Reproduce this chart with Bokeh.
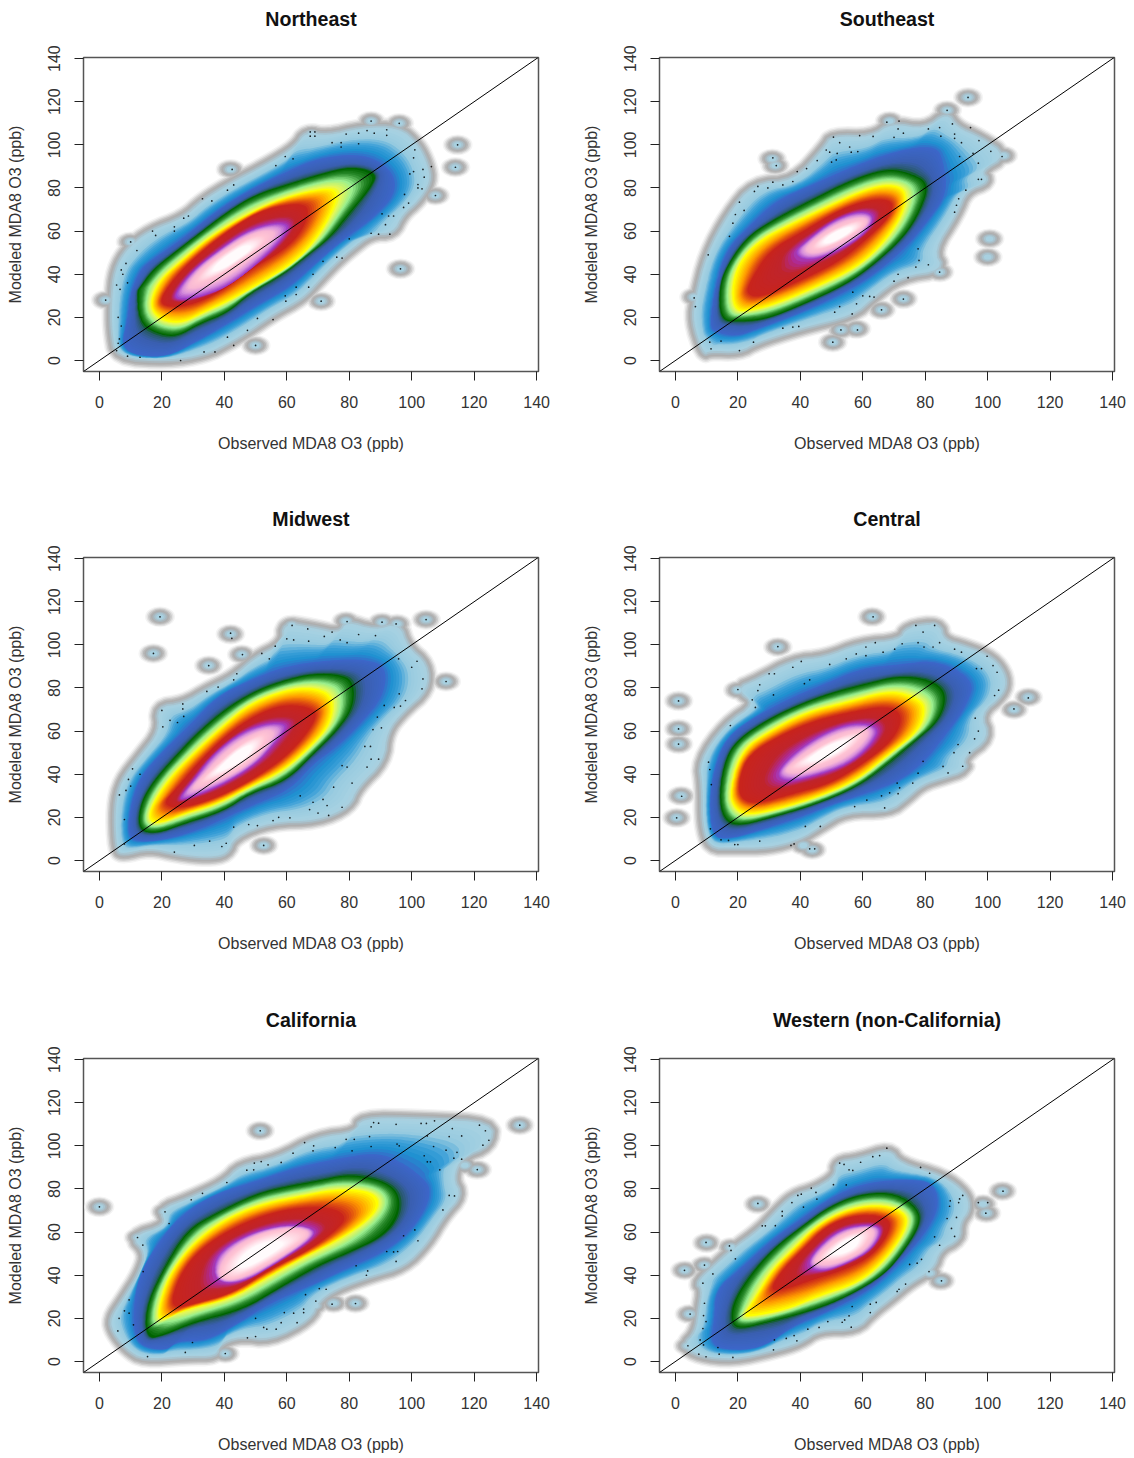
import numpy as np
from bokeh.plotting import figure
from bokeh.layouts import row, column
from bokeh.models import Range1d, FixedTicker, Slope, Title
from bokeh.embed import file_html
from bokeh.resources import INLINE

TITLES = ["Northeast", "Southeast", "Midwest", "Central", "California", "Western (non-California)"]
X_LABEL = "Observed MDA8 O3 (ppb)"
Y_LABEL = "Modeled MDA8 O3 (ppb)"
TICKS = [0, 20, 40, 60, 80, 100, 120, 140]

# Density contours, (observed, modeled) in ppb.
# A light blue edge, B royal blue, C dark green, D yellow, E red, F purple, G pink core
northeast_A = [(5.5,1.5),(4,14),(4,28),(5,42),(9,52),(16,60),(27,66),(33,74),(42,82),(54,91),(63,99),(66,106),(73,104),(84,108),(96,108),(102,100),(105,91),(106,83),(102,74),(97,68),(94,59),(87,59),(80,51),(76,46),(70,37),(65,29),(56,22),(48,14),(41,8),(34,3),(22,0)]
northeast_B = [(13,2),(7,6),(9,19),(10,32),(13,42),(16,46),(27,57),(38,70),(48,79),(59,87),(70,94),(85,96),(94,88),(95,77),(87,65),(78,56),(70,46),(61,34),(51,26),(41,17),(30,8),(22,2)]
northeast_C = [(12,32),(13,17),(19,12),(25,11),(32,17),(41,22),(48,31),(59,40),(66,48),(74,57),(80,68),(87,80),(89,87),(81,90),(72,87),(61,82),(50,77),(41,69),(32,59),(23,49),(17,42),(13,34)]
northeast_D = [(16,26),(19,19),(26,17),(33,22),(42,28),(53,37),(63,46),(70,57),(76,73),(76,80),(68,79),(56,74),(45,66),(35,57),(26,46),(19,37)]
northeast_E = [(19.5,29),(20.5,25),(28,25),(38,31),(48,42),(59,51),(65,60),(67.5,71),(63,73),(52.5,70),(43,62),(33,51),(25,40)]
northeast_F = [(24,31),(25,28),(31,29),(41,34),(51.5,46),(59,57),(61,63),(56,64),(47,60),(38,51),(30,42)]
northeast_G = [(30,35),(38,39),(45,46),(52,53),(54,58),(49,58),(40,50),(33,42)]

southeast_A = [(9,3),(5.5,18.5),(6.6,29),(10,49),(17,68),(25,82),(38,83),(48,99),(50,104),(63,103.5),(69,110),(80,107),(87,115),(90,108),(97.5,103.5),(106,95),(97.5,88),(100.6,83),(93,79),(90,68),(82.5,51),(86,42),(72,39),(63,29),(57,21),(40,15),(26,8.5),(20.5,4),(11,4.6)]
southeast_B = [(11,15.5),(12.5,32),(16,51),(24,63),(32,74),(43,81),(55,89),(70,97),(83.5,100),(86,91),(87,77),(80,63),(74,52.5),(64,40),(53.6,31),(40,22),(27,15),(19.5,11),(13,13)]
southeast_C = [(14.6,18.5),(14,32),(15.7,42),(22.6,57),(31,65),(43,74),(56,83.5),(67.5,89),(75,87),(81.4,82),(78,68),(73,57),(64,45),(55,35.5),(41,26),(29,19),(20.5,18)]
southeast_D = [(19,23),(18,34),(20.5,46),(27,56),(36.5,63),(48,71),(60,79),(68.5,82),(74,79),(73,68),(66.5,54),(58,43),(45,34),(32,26),(24,23)]
southeast_E = [(22.6,31),(24,37),(30,51),(41,60),(52.6,70),(63,75),(70,74),(68.6,66.5),(61,56),(52.6,46),(40,37),(27,29)]
southeast_F = [(37.6,49.5),(42,55.6),(50.4,65),(59,69.5),(64,67),(61,59),(52.6,51),(43,46)]
southeast_G = [(43,52.5),(49,60),(59,65.7),(61,63),(53.6,55.6),(46,51)]

midwest_A = [(5.5,4.6),(5,25),(7,37),(13,48),(19.5,60),(18.4,71),(27,72.6),(34.4,79),(43,85),(50,94),(59,100.5),(59,110),(67.6,108),(77,105),(79,111),(88,106.6),(96,110),(98.5,99),(105,91),(105,79),(97.4,69.5),(92,60),(91,46),(82.5,34),(80,25),(70,18.5),(55,18),(43,11),(41,3),(34.4,1.5),(25,3),(16,6),(7.7,3)]
midwest_B = [(9,11),(10,26),(13,38.6),(19.5,49.5),(29,63),(37.6,76),(48,83.5),(59,90),(72,92.7),(84.6,93.5),(92,90),(91,76),(83.5,63),(76,52.5),(68.6,45),(61,32.5),(48,25),(34.4,15.5),(22.6,10),(13,8.5)]
midwest_C = [(12.5,14),(13,26),(17.3,37),(26,51),(32,60),(41,71),(50.4,79),(59,83.5),(67.5,86.5),(76,86.5),(81.4,83.5),(81.4,71),(76,60),(68.6,49.5),(60,37),(48,31),(40,23),(27,17),(18.4,12.4)]
midwest_D = [(15.7,18.5),(16.8,26),(22.6,38.6),(31,51),(40,63),(48,72.6),(59,79),(68.6,80.4),(75,76),(74,63),(67.5,52.5),(59,41.7),(48,34),(37.6,26),(27,21.6),(19.5,17)]
midwest_E = [(20,26),(25,34),(32,46),(42,60),(52.6,69.5),(61,72.6),(69.6,70),(68.6,63),(61,49.5),(50.4,38.6),(37.6,29),(26,24)]
midwest_F = [(25,28),(30,37),(36.5,49.5),(46,60),(54.7,64),(61,63),(55.8,54),(50.4,45),(40,35.5),(29,29)]
midwest_G = [(31,34.8),(36.5,43),(45,54),(52.6,59.5),(53.6,55.6),(48,46),(38.7,38.6)]

central_A = [(11,6),(8.8,17),(8.8,34),(7.7,46),(16,63),(26,72.6),(19.5,79.6),(26,83.5),(37.6,92.7),(48,94),(59,100.5),(72,102),(74,108),(84.6,110),(85.7,102),(93,99),(101.7,94),(106,85),(105,77),(97.4,68),(100.6,57),(92,48),(93,42),(85.7,38.6),(79,35.5),(74,29),(68.6,23),(54.7,23),(46,15.5),(40,10),(30,6),(18.4,6)]
central_B = [(12,11),(11,26),(12,40),(16,57),(27,68),(37.6,76),(48,82),(59,89),(72,91),(83.5,93),(96,83.5),(93,71),(87,59),(80,46),(72,37),(61,31),(50,26),(40,20),(27,14),(17.3,10)]
central_C = [(15.7,18.5),(14,29),(15.7,46),(19.5,55.6),(29,65),(40,72.6),(50.4,78),(61,82),(72,85.8),(82.5,83.5),(87,77),(84.6,65),(77,55.6),(66.5,43),(58,34),(45,26),(31,20),(20.5,16)]
central_D = [(19,24),(17.3,31),(21,51),(30,60),(42,69),(54.7,73.4),(68.6,79),(77,75.7),(80.3,71),(78,60),(68.6,49.5),(58,37),(45,29),(31,23),(22.6,21)]
central_E = [(20.5,29),(20.5,38.6),(23.7,49.5),(34.4,58.7),(45,65),(55.8,68.8),(68.6,71.9),(73,66.5),(69.6,55.6),(60,44.8),(49.4,35.5),(37.6,31),(25.8,26)]
central_F = [(32,40),(37.6,49.5),(47,58.7),(56.8,64),(65.4,62),(63,54),(55.8,44.8),(45,39.4),(35.5,36.3)]
central_G = [(35.5,41.7),(40.8,48),(49.4,55.6),(58,60),(61,58.7),(54.7,49.5),(44,43)]

california_A = [(3.4,19.6),(4.5,13.4),(8.8,5.7),(14,1),(28,2.6),(37.6,2.6),(38,8),(45,12),(54.7,10),(67.5,19.6),(70,28),(76,34),(86.7,39.7),(97.4,44),(105,55),(110,67.5),(116,77),(113,85),(116,95),(125,100),(126,110.8),(104,112.4),(83.5,113),(82.5,106),(69.6,103.9),(56.8,93.8),(45,90.7),(40,83),(28,75),(19.5,70.6),(21.6,63),(10,58),(15,50.5),(13,41),(7.7,29)]
california_B = [(13,7),(21.6,5),(25,9.6),(34.4,9.6),(43,16.5),(54.7,27),(67.5,35),(79,43),(91,50.5),(99.6,60),(105,72),(106,80),(104,84.5),(97.4,92),(89,97),(76,94),(63,90),(50.4,83.8),(37.6,78),(27,69),(19.5,56.7),(13,41),(11,26),(11,15)]
california_C = [(15,10.4),(20.5,12),(30,18),(46,24),(57,33.5),(70,44.4),(80,50.5),(91,58),(96,67.5),(96,78),(91,83.8),(80,87),(70,83.8),(61,81.5),(50.4,78),(37.6,69),(28,61),(20.5,43),(15,25.8)]
california_D = [(19,18),(27,24),(42,29),(52.6,38),(64.3,47.5),(77,56.7),(86.7,66),(90,73.7),(86.7,79),(76,80),(64.3,76.8),(51.5,73),(40,66),(30,55),(22.6,41),(19,25.8)]
california_E = [(22.6,24),(32,27.4),(43,32),(54.7,42.8),(67.5,52),(76,61),(79.3,66.8),(75,71.4),(63,71.4),(51.5,67.5),(40,59.8),(31,50.5),(25,38)]
california_F = [(36.5,46),(40.8,53.6),(50.4,60.6),(61,63.7),(69.6,61.4),(67.5,56),(57,46),(46,36.6),(37.6,36.6)]
california_G = [(38.7,40.5),(40.8,47.5),(48.3,56.7),(59,61.4),(67.5,59.8),(61,52),(48.3,41.3),(41.9,38)]

western_A = [(2.4,7.3),(6.6,13.4),(7.7,24),(8.8,33.5),(6.6,36.6),(15,47.5),(18.4,52),(27,61),(32,69),(37.6,76.8),(45,80),(51.5,86),(51.5,92.3),(59,93.8),(68.6,98.5),(71.8,91.5),(85.7,86),(93,78),(94.2,70.6),(91,64.5),(91,56.7),(84.6,52),(82.5,42.8),(75,36.6),(69.6,30),(63,22.7),(58,15),(46,15),(40,8.8),(31,5),(18.4,1),(7.7,2.6)]
western_B = [(11,7),(12.5,19.6),(13,33.5),(20.5,42.8),(31,56.7),(40,66),(50.4,76.8),(61,83),(74,84.5),(82.5,83),(84.6,72),(80.3,59.8),(72.9,47.5),(63,33.5),(48.3,22.7),(37.6,16.5),(29,7.3),(20.5,5)]
western_C = [(17.8,18),(18.4,27.4),(23.7,39.7),(31,52),(40.8,63),(49.4,72),(59,77.6),(69.6,78.4),(77,72),(78.8,64.5),(72.9,50.5),(66.5,39.7),(53.6,29),(41.9,22.7),(29,18),(20.5,15)]
western_D = [(21.6,21),(25.9,30.4),(31,42.8),(37.6,52),(45,63),(54.7,70.6),(65.4,73),(74,69),(74,61.4),(67.5,47.5),(59,36.6),(46,30.4),(35.5,24),(24.8,21)]
western_E = [(30,32.8),(34.4,42.8),(40.8,52),(48.3,63),(58,68.3),(68.6,66.8),(68.6,59.8),(63,49),(54.7,42.8),(44,38),(35.5,33.5)]
western_F = [(42,44.4),(45,52),(52.6,61.4),(62,63.7),(66.5,61.4),(63,52),(55.8,46),(47,41.3)]
western_G = [(45,46),(47,50.5),(53.6,58.3),(61,61.4),(63,59.8),(60,52),(52.6,46.7)]

# Isolated low-density spots
northeast_spots = [(2,28),(42,88.6),(68,105),(114.7,100),(114,89.6),(107.6,76.5),(96.4,42.5),(71,27.5),(50,7),(87,111),(96,110),(10,55)]
southeast_spots = [(31,93.5),(32,90.4),(93.7,122),(87,116),(68.6,111),(105,95),(100.6,56.4),(100,48),(84.6,41),(73,28.6),(66,23.5),(58,14.7),(53,14.2),(50.4,8.5),(6,29.4)]
midwest_spots = [(19.4,113),(17.3,96),(42,105),(35,90.4),(45.6,95.5),(61.6,109),(79,111),(90.5,110.5),(95.3,109.7),(104.6,111.7),(111,83),(80.9,35.9),(52.6,7)]
central_spots = [(1,74),(1,61),(1,54),(1.8,30),(0.4,19.8),(63,113),(32.8,99),(77,107.7),(82.5,108.5),(27.5,81),(20,79),(39.7,91.5),(113,75.7),(108.4,70),(86.8,41),(91.6,43.7),(67,24.4),(43.8,5),(41,7)]
california_spots = [(0,71.7),(51.5,107),(134.6,109.6),(12.5,57.5),(21,69.4),(121,89),(117,91),(122,107.7),(82,27),(75,27),(69,26),(40.3,3.7),(104,110.5),(88.4,110),(112,104.6),(123,101.5)]
western_spots = [(26.4,73),(10,55),(3,42.3),(9.3,44.6),(4.5,22),(4,7.3),(104.7,79),(98.5,73),(99.6,68.8),(85,37.4),(81.4,41),(62,22.7),(17.8,52.9),(47.2,20.4),(89.4,58)]

# Individual points drawn in the sparse fringe
northeast_dots = [(2,28),(5.5,35),(7,42),(7.5,40),(8.5,45),(9,36),(6.6,33),(10,55),(12,51),(17,60),(18,58),(24,62),(24,60),(27,66),(28.5,67),(33,75),(36,74),(42.5,88.6),(41,79),(43,81.4),(56.5,90.4),(59.5,94.6),(62,93.5),(67.5,106),(69,106),(67.5,104),(69,104),(74.5,101),(77.4,101),(77.4,99),(79,105),(83,105.4),(83,100.5),(85.7,106.6),(87,111),(88,105.4),(92,107),(92,104.4),(96,110),(101,97.7),(100.6,94),(103.6,88.6),(100.6,87.6),(99.4,86.5),(106.3,89.9),(114.7,100),(114,89.6),(104,85),(102,81.6),(102,80),(103.3,79.6),(97.7,77),(107.6,76.5),(99,73),(97.4,71),(90.5,68),(92.6,67),(94.2,67),(91.6,63),(87,59),(89.4,58.6),(93,58.6),(80,56.4),(76,47.9),(77.7,47.5),(71.6,46),(68.4,40),(96.4,42.5),(67,34),(63,34),(63,30.6),(59.5,30),(59.7,27.5),(71,27.5),(55.6,19),(50.6,19.5),(47.4,14),(50,7),(43,7),(41,10.8),(37,4),(33.5,4),(26,0),(13,1.5),(9,2),(5.5,4.6),(6.4,10),(6,8),(7,16),(6,20)]
southeast_dots = [(6.4,25),(6,29),(11.4,5.4),(11,8.5),(14.6,9),(20.5,4.6),(25,8.5),(34.4,15),(37.6,15.5),(39.5,15.8),(50.4,8.5),(53,14.2),(58.3,14.2),(52.6,25),(51,22.4),(56.6,21.6),(56.8,31.7),(60,30),(58,26.3),(62.2,29.7),(63.6,29.4),(66,23.5),(73,28.5),(70,36.8),(71.3,40),(74.5,38.4),(77,43.3),(78,46.4),(81,44.4),(84.6,41),(77.7,51.8),(89.4,68.8),(90,72),(90.7,75),(93,79),(98,84),(97,84),(97,91.5),(104.6,94.6),(101,97),(95.3,96),(91,94.6),(97.2,102),(94.5,108),(91.6,101),(89.4,105),(89.4,103),(85,104),(88.7,109.7),(84.6,108),(87,116),(81,107.4),(93.7,122),(73,105.4),(70,103.5),(71.6,111),(67.7,110.5),(71.3,107.4),(63.3,103.9),(59,104.3),(50.6,103.6),(52.6,101),(55.8,99),(56.3,96.6),(58.4,96.9),(51.8,96),(51.5,93),(48.3,97.6),(49.4,96.6),(50,92),(45.4,92.7),(42,89),(39,87.6),(37.6,83),(31.2,94),(32.3,90.4),(34.4,81.4),(31.2,82.7),(29.6,80),(26.4,80.7),(25.3,78.4),(20.5,73.4),(22,69.6),(19.2,67.7),(18.4,63.7),(17.3,57.6),(10.5,49)]
midwest_dots = [(19.4,113),(17.3,96),(42,105.4),(42.4,103),(35,90.4),(45.8,95.5),(52,96),(54.4,93.5),(56.3,99.4),(44,86.6),(43,83.8),(38,80.4),(34.4,78.4),(26.7,72.6),(26.7,70.3),(20,69.6),(27,66.8),(22.6,65),(25,64),(20.3,62),(13,40),(10.6,42.5),(9.3,37.6),(10,34.5),(8.5,32.5),(6.4,30.4),(8,19),(8,7.7),(24,3.9),(30.4,7),(35.3,9),(39.2,6.5),(40.6,8),(52.6,7),(43,15.5),(47.8,16.7),(50.6,16.2),(55.6,18.5),(57.4,20),(61,19.8),(64.3,30),(67.3,23.6),(68.4,27),(70,22),(73.4,20.9),(71.6,28.3),(72.9,25.5),(77.7,24.7),(75,34),(80.9,35.9),(77.7,44),(79.3,43.3),(85.7,43.3),(89.4,47),(87,47),(85,52.9),(86.8,52.9),(87.6,60.7),(90.3,61.5),(89,66.5),(91.2,71.9),(94.4,71),(96.4,71.6),(98,74.2),(96,77.3),(103.3,79.6),(103.6,84.2),(100,89.6),(101.7,92.4),(95.8,93.5),(111,83),(104.6,111.7),(95,109.7),(90.5,110.5),(79.3,110.8),(88.4,104.3),(83,104.8),(79.3,101),(77.1,102.3),(74.5,105.9),(72,103.9),(66.7,107.4),(67,101.7),(61.7,109),(62.2,102.3),(60,102.8)]
central_dots = [(1,74),(1,61),(1,54),(2,29.8),(0.4,19.8),(10.6,45.6),(11,42.2),(11.5,35.2),(11.2,14.7),(14.6,9.6),(17,9.3),(19,7.4),(20,7.4),(27,9),(37,7),(38,7.7),(41.6,15.8),(46.4,15.8),(43,5.4),(44.6,5.4),(57.4,25),(61.3,28),(66,30),(67,24.4),(68.6,31.4),(71.3,31),(71.8,33.7),(71,35.9),(76,35.9),(77.7,40.5),(79.3,46),(85.7,43.6),(87.3,40.6),(92,43.7),(89.2,50),(94.2,50),(90.5,53.8),(95.8,56.4),(97,60),(96,66),(102.2,76.5),(103.5,79),(103,87.3),(101.7,90.4),(98,89),(96.4,89),(99.8,94.7),(113,75.4),(108.4,70.3),(91.6,96.6),(89.4,98),(84.6,101),(82.5,99),(79.6,99),(77.7,101),(72.6,100.5),(70.2,98),(66.5,96.6),(64,101),(61,99),(61,95),(57.9,95.8),(54.7,93.5),(49.4,90.9),(77,109),(79.3,105.9),(83,109),(63.3,113),(32.8,99.2),(40.3,92.3),(37.6,89.6),(31.7,86.6),(30,86.6),(43,83.8),(41.3,82),(27,81.5),(20,79.3),(26.4,78.8),(31.4,76.8),(24.6,74.5),(25.6,71),(17.6,62.6)]
california_dots = [(0,71.7),(51.5,107),(134.6,109.6),(12.2,57.5),(13.9,54),(21,69.4),(22.3,64),(14,41.7),(9.5,28.6),(8,23.5),(9.5,22.4),(6.3,20),(10.9,17),(5.9,14.2),(15.4,2.3),(27.5,4.2),(29.8,8.8),(40.3,3.7),(47.4,11),(50,11.6),(52.6,15.8),(53.6,15),(56.6,15),(58.2,18),(63.3,18),(50,20),(59.2,22.7),(62.2,22.4),(65.4,24.3),(65.4,22.7),(69.3,28),(66,31),(70.4,33.8),(72.6,33.5),(74.5,26.6),(82,26.9),(82.2,44.4),(85.9,42),(85.5,40),(95,46.4),(92,51),(94.2,50.8),(95.5,51),(97.4,58.3),(102,56),(101,61),(110,70.3),(112,77),(113.7,76.8),(109,88.9),(121,89),(113.5,94.3),(116,93.8),(104,95.4),(105,92.6),(106,92.6),(107,99.7),(111,98),(114.5,97),(122.8,100.3),(124.7,102.6),(123.6,107),(121.7,109.6),(116,104.6),(112,104.3),(113,108),(105,104.6),(107.3,111.6),(104.7,110.4),(103,110.4),(96,100),(95.3,100.8),(95,110),(89.4,110.5),(87.8,110.8),(87,108.8),(86.5,104.3),(87,99.7),(81.6,103),(79,103),(80.9,97.7),(75.5,99.2),(68.6,100),(68.4,97.7),(65.7,101.5),(62,96.6),(58.2,92.3),(54,91.2),(51.8,92.7),(49.6,92),(49.4,88.9),(47.2,88.7),(40.8,83),(33,78),(29.4,75)]
western_dots = [(26.4,73.3),(9.8,55.2),(2.9,42.3),(9.3,44.7),(17.3,53.6),(17.8,51.5),(19.2,47.6),(12,40.6),(8.8,36.3),(9.3,27),(4.7,22),(9,21.3),(9.8,18.5),(8.8,15.3),(7.9,10),(4,7.3),(9,7.7),(13.6,6.5),(7.5,3.4),(9.8,2.2),(14,3.4),(18.4,1.9),(31.4,5.4),(31.7,10),(35.5,10.7),(38,12),(38.9,9.6),(42.4,15),(46,15.8),(48.8,18.5),(53.4,18.2),(54.2,19.3),(56.3,15.9),(55.6,21.2),(56.6,25.5),(62.4,22.7),(62.4,26.6),(64.3,27.4),(71,32.5),(71.6,33.5),(73.7,35.9),(75,45),(77.4,45.6),(78.8,47.4),(81.2,41.7),(85.2,37.4),(83,57.8),(84.6,53.9),(88.4,61.7),(89.4,58),(87,66.3),(90,66.8),(87.8,72),(88,74.5),(90.7,73.7),(91,75.4),(92,77),(100,73.7),(97,73.7),(99.4,68.8),(104.9,79),(81.4,87.3),(78.5,90),(67.7,98.9),(65.4,95.5),(63.2,95),(59.3,92.4),(56.8,88.6),(54.7,81.9),(55.6,88.9),(54,91.4),(52.6,92),(50.6,82),(45.3,75.3),(45,78.4),(43.5,80.4),(40.3,77.6),(39.2,77),(37.3,73.7),(41,71.6),(34.2,69.6),(34.2,67.5),(32,63),(28.8,62.9),(27.8,62.9)]

PANELS = [
    ([northeast_A, northeast_B, northeast_C, northeast_D, northeast_E, northeast_F, northeast_G], northeast_spots, northeast_dots),
    ([southeast_A, southeast_B, southeast_C, southeast_D, southeast_E, southeast_F, southeast_G], southeast_spots, southeast_dots),
    ([midwest_A, midwest_B, midwest_C, midwest_D, midwest_E, midwest_F, midwest_G], midwest_spots, midwest_dots),
    ([central_A, central_B, central_C, central_D, central_E, central_F, central_G], central_spots, central_dots),
    ([california_A, california_B, california_C, california_D, california_E, california_F, california_G], california_spots, california_dots),
    ([western_A, western_B, western_C, western_D, western_E, western_F, western_G], western_spots, western_dots),
]

# Colour ramp: position is contour index (0=A ... 6=G, 7=white centre)
RAMP = [(0, "#a8d2e2"), (0.35, "#98cbe0"), (0.6, "#3a9fd8"), (0.8, "#1e90d0"), (1, "#3c66c8"), (1.6, "#3a5fb0"),
        (1.85, "#2a5a70"), (2, "#006400"), (2.25, "#2a8a2c"), (2.55, "#98ee90"), (2.85, "#e4f75a"), (3, "#ffff00"),
        (3.45, "#ff9a00"), (3.75, "#e05010"), (4, "#c8241c"), (4.6, "#c0242c"), (4.85, "#b02a90"), (5, "#a040c8"),
        (5.3, "#d890dc"), (5.6, "#f8b8d4"), (6, "#ffc4d4"), (7, "#ffffff")]
HALO = [(1.0, "#f4f4f4"), (0.9, "#e2e2e2"), (0.8, "#cccccc"), (0.7, "#b8b8b8"), (0.6, "#aeaeae"),
        (0.5, "#aab6bc"), (0.38, "#a8c4d0"), (0.25, "#a8d0e0")]
WHITE_CORE_SCALE = 0.5


def to_rgb(c):
    return np.array([int(c[i:i + 2], 16) for i in (1, 3, 5)], float)


def ramp_colour(t):
    pos = [r[0] for r in RAMP]
    rgb = np.array([to_rgb(r[1]) for r in RAMP])
    vals = [int(round(np.interp(t, pos, rgb[:, k]))) for k in range(3)]
    return "#%02x%02x%02x" % tuple(vals)


def smooth(poly, n=2):
    p = np.array(poly, float)
    for _ in range(n):
        q = np.roll(p, -1, axis=0)
        p = np.column_stack([0.75 * p + 0.25 * q, 0.25 * p + 0.75 * q]).reshape(-1, 2)
    return p


def polar(p, c, angles):
    dx, dy = p[:, 0] - c[0], p[:, 1] - c[1]
    u, v = dx + dy, (dy - dx) * 3
    th, r = np.arctan2(v, u), np.hypot(u, v)
    o = np.argsort(th)
    return np.interp(angles, th[o], r[o], period=2 * np.pi)


def build(panel, idx):
    contours, spots, dots = panel
    p = figure(width=576 if idx % 2 == 0 else 558, height=[500, 501, 457][idx // 2],
               x_range=Range1d(-5.1, 140.6), y_range=Range1d(-5.1, 140.5),
               output_backend="svg", toolbar_location=None,
               min_border_left=83, min_border_right=38 if idx % 2 == 0 else 20,
               min_border_top=57, min_border_bottom=[129, 130, 86][idx // 2],
               x_axis_label=X_LABEL, y_axis_label=Y_LABEL)
    p.grid.visible = False
    p.outline_line_color = "#555555"
    p.outline_line_width = 1.5
    # An empty title next to the frame keeps the real one at its height above the plot
    p.add_layout(Title(text=" ", text_font_size="22px", standoff=0), "above")
    p.add_layout(Title(text=TITLES[idx], align="center", vertical_align="middle", standoff=0,
                       text_font="Liberation Sans", text_font_size="19.6px", text_font_style="bold",
                       text_color="#111111"), "above")
    for ax in (p.xaxis[0], p.yaxis[0]):
        ax.ticker = FixedTicker(ticks=TICKS)
        ax.axis_line_color = None
        ax.major_tick_line_color = "#222222"
        ax.major_tick_line_width = 1
        ax.major_tick_in = 0
        ax.major_tick_out = 9
        ax.minor_tick_line_color = None
        ax.major_label_text_font = "Liberation Sans"
        ax.major_label_text_font_size = "16px"
        ax.major_label_text_color = "#333333"
        ax.axis_label_text_font = "Liberation Sans"
        ax.axis_label_text_font_size = "16px"
        ax.axis_label_text_font_style = "normal"
        ax.axis_label_text_color = "#333333"
    p.xaxis[0].major_label_standoff = 15
    p.xaxis[0].axis_label_standoff = 24
    p.yaxis[0].major_label_standoff = 14
    p.yaxis[0].major_label_orientation = "vertical"
    p.yaxis[0].axis_label_standoff = 22

    smooth_polys = [smooth(c) for c in contours]
    outer = smooth_polys[0]
    sx, sy = [s[0] for s in spots], [s[1] for s in spots]
    for frac, col in HALO:
        w = max((frac - 0.25) * 2 * 14, 0.1)
        p.patch(outer[:, 0], outer[:, 1], fill_color=col, line_color=col, line_width=w, line_join="round")
        p.ellipse(sx, sy, width=frac * 9.6, height=frac * 9.6, fill_color=col, line_color=None)

    centre = np.mean(np.array(contours[6], float), axis=0)
    angles = np.linspace(-np.pi, np.pi, 360, endpoint=False)
    radii = [polar(sp, centre, angles) for sp in smooth_polys]
    radii.append(radii[6] * WHITE_CORE_SCALE)
    xs, ys, cols = [], [], []
    steps = 14
    for k in range(7):
        for s in range(steps):
            t = s / steps
            if k == 0 and s == 0:
                continue
            r = radii[k] * (1 - t) + radii[k + 1] * t
            u, v = r * np.cos(angles), r * np.sin(angles) / 3
            xs.append(list(centre[0] + (u - v) / 2))
            ys.append(list(centre[1] + (u + v) / 2))
            cols.append(ramp_colour(k + t))
    p.patches(xs, ys, fill_color=cols, line_color=None)

    p.scatter([d[0] for d in dots], [d[1] for d in dots], marker="circle", size=1.7,
              fill_color="#000000", line_color=None, fill_alpha=0.85)
    p.add_layout(Slope(gradient=1, y_intercept=0, line_color="#000000", line_width=1))
    return p


figs = [build(pn, i) for i, pn in enumerate(PANELS)]
layout = column(row(figs[0], figs[1], spacing=0), row(figs[2], figs[3], spacing=0),
                row(figs[4], figs[5], spacing=0), spacing=0)
open("out.html", "w").write(file_html(layout, INLINE))
